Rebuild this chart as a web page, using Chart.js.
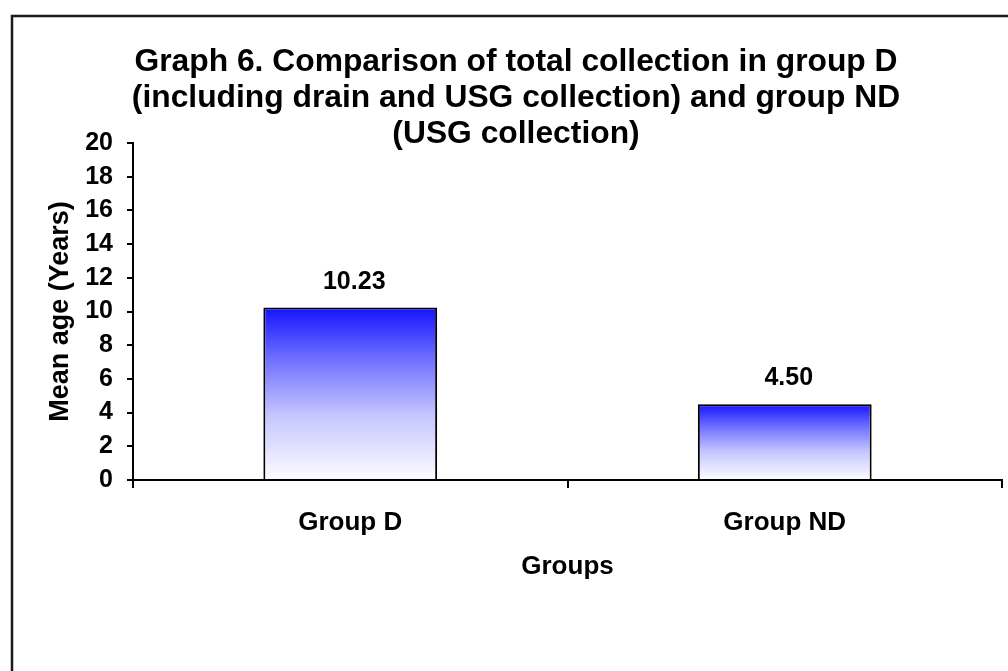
<!DOCTYPE html>
<html>
<head>
<meta charset="utf-8">
<script src="https://cdn.jsdelivr.net/npm/chart.js@4.4.1/dist/chart.umd.min.js"></script>
<style>
  html, body { margin: 0; padding: 0; background: #ffffff; }
  #wrap { width: 1008px; height: 671px; position: relative; }
</style>
</head>
<body>
<div id="wrap"><canvas id="chart" width="1008" height="671"></canvas></div>
<script>
// Chart data
const groups = ['Group D', 'Group ND'];
const meanAge = [10.23, 4.50];
const yTickValues = [0, 2, 4, 6, 8, 10, 12, 14, 16, 18, 20];
const titleLines = [
  'Graph 6. Comparison of total collection in group D',
  '(including drain and USG collection) and group ND',
  '(USG collection)'
];
const yAxisTitle = 'Mean age (Years)';
const xAxisTitle = 'Groups';

const FONT = '"Liberation Sans", Arial, Helvetica, sans-serif';

// Vertical blue-to-white fill, computed per bar from its own top and base
function barGradient(ctx) {
  const chart = ctx.chart;
  const yScale = chart.scales.y;
  if (ctx.type !== 'data' || !chart.chartArea || !yScale) return '#4040ff';
  const top = yScale.getPixelForValue(ctx.raw);
  const base = yScale.getPixelForValue(0);
  if (!isFinite(top) || !isFinite(base) || top === base) return '#4040ff';
  const g = chart.ctx.createLinearGradient(0, top, 0, base);
  g.addColorStop(0, '#1414ff');
  g.addColorStop(0.3, '#7070ff');
  g.addColorStop(0.62, '#c4c4ff');
  g.addColorStop(1, '#fdfdff');
  return g;
}

// Outer frame of the chart object (only its left and top edges fall inside the canvas)
const framePlugin = {
  id: 'frame',
  beforeDraw(chart) {
    const c = chart.ctx;
    c.save();
    c.strokeStyle = '#1a1a1a';
    c.lineWidth = 2.5;
    c.strokeRect(12, 16, 1100, 800);
    c.restore();
  }
};

// Multi-line title, centred on the chart object
const titlePlugin = {
  id: 'multiTitle',
  afterDraw(chart) {
    const c = chart.ctx;
    c.save();
    c.fillStyle = '#000';
    c.font = 'bold 31.8px ' + FONT;
    c.textAlign = 'center';
    c.textBaseline = 'alphabetic';
    const baselines = [71, 107, 143];
    titleLines.forEach((t, i) => c.fillText(t, 516, baselines[i]));
    c.restore();
  }
};

// Value labels above each bar
const valueLabelPlugin = {
  id: 'valueLabels',
  afterDatasetsDraw(chart) {
    const c = chart.ctx;
    const meta = chart.getDatasetMeta(0);
    c.save();
    c.fillStyle = '#000';
    c.font = 'bold 25px ' + FONT;
    c.textAlign = 'center';
    c.textBaseline = 'alphabetic';
    meta.data.forEach((bar, i) => {
      c.fillText(meanAge[i].toFixed(2), bar.x + 4, bar.y - 19);
    });
    c.restore();
  }
};

new Chart(document.getElementById('chart'), {
  type: 'bar',
  data: {
    labels: groups,
    datasets: [{
      data: meanAge,
      backgroundColor: barGradient,
      borderColor: '#000',
      borderWidth: 2,
      barPercentage: 0.4,
      categoryPercentage: 1.0
    }]
  },
  options: {
    responsive: false,
    devicePixelRatio: 1,
    animation: false,
    layout: { padding: { top: 143, right: 6, bottom: 0, left: 0 } },
    plugins: {
      legend: { display: false },
      title: { display: false },
      tooltip: { enabled: false }
    },
    scales: {
      x: {
        offset: true,
        grid: {
          offset: true,
          drawOnChartArea: false,
          drawTicks: true,
          tickLength: 8,
          color: '#000',
          lineWidth: 2
        },
        border: { display: true, color: '#000', width: 2, z: 1 },
        ticks: {
          color: '#000',
          font: { family: FONT, size: 26, weight: 'bold' },
          padding: 19,
          maxRotation: 0
        },
        title: {
          display: true,
          text: xAxisTitle,
          color: '#000',
          font: { family: FONT, size: 26, weight: 'bold' },
          padding: { top: 0, bottom: 89 }
        },
        afterFit(scale) { scale.height = 191; }
      },
      y: {
        min: 0,
        max: 20,
        afterBuildTicks(scale) {
          scale.ticks = yTickValues.map(v => ({ value: v }));
        },
        grid: {
          drawOnChartArea: false,
          drawTicks: true,
          tickLength: 6,
          color: '#000',
          lineWidth: 2
        },
        border: { display: true, color: '#000', width: 2 },
        ticks: {
          color: '#000',
          font: { family: FONT, size: 25, weight: 'bold' },
          padding: 14
        },
        title: {
          display: true,
          text: yAxisTitle,
          color: '#000',
          font: { family: FONT, size: 27, weight: 'bold' },
          padding: { top: 44, bottom: 0 }
        },
        afterFit(scale) { scale.width = 133; }
      }
    }
  },
  plugins: [framePlugin, titlePlugin, valueLabelPlugin]
});
</script>
</body>
</html>
